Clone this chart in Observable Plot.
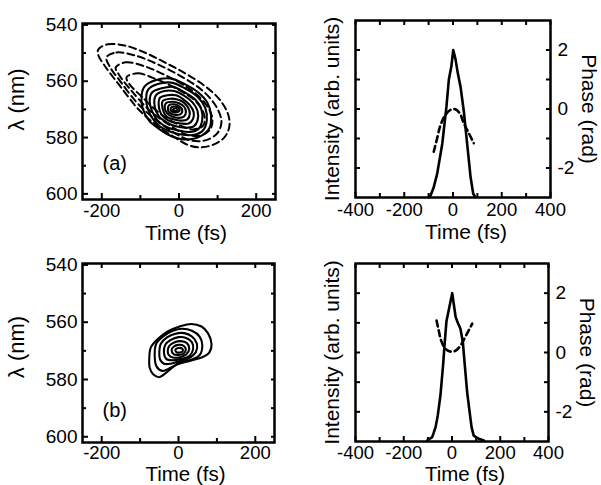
<!DOCTYPE html>
<html><head><meta charset="utf-8">
<script src="https://cdn.jsdelivr.net/npm/d3@7"></script>
<script src="https://cdn.jsdelivr.net/npm/@observablehq/plot@0.6"></script>
<style>
body{margin:0;background:#fff;}
#root{position:relative;width:601px;height:485px;background:#fff;overflow:hidden;}
.panel{position:absolute;}
.panel svg{position:absolute;left:0;top:0;}
</style></head><body><div id="root"></div>
<script>
const FONT = '"Liberation Sans", Arial, Helvetica, sans-serif';

// ---- Panel (a) FROG trace contours, [time fs, wavelength nm]
const frogA_dashed = [
  [[-209,548.7],[-185,546.9],[-141,547.3],[-89,549.8],[-37,553.3],[16,557.2],[68,561.8],[107,566.8],[128,572.1],[130,576.4],[117,580],[89,582.5],[55,583.5],[21,582.5],[-10,580],[-50,576.4],[-102,570.4],[-154,561.5],[-193,554.4],[-209,550.8]],
  [[-188,551.5],[-162,549.8],[-115,550.8],[-55,554.0],[10,558.6],[63,563.6],[96,568.9],[110,574.3],[99,578.5],[68,581.0],[29,581.0],[-10,578.5],[-55,574.3],[-107,567.9],[-154,559.7],[-180,554.7]],
  [[-164,555.1],[-138,553.3],[-89,554.7],[-29,558.3],[29,562.9],[68,567.9],[86,572.9],[81,577.1],[55,579.3],[18,578.9],[-23,575.7],[-76,570.4],[-128,562.6],[-156,557.6]],
  [[-136,558.6],[-107,557.2],[-57,559.4],[-3,562.9],[44,567.2],[65,571.8],[63,575.7],[37,577.1],[-3,575.3],[-50,571.4],[-97,565.4],[-128,561.1]]
];
const frogA_solid = [
  [[-89,561.8],[-63,559.7],[-23,559.0],[16,561.1],[50,564.0],[73,567.5],[83,572.1],[78,576.8],[55,579.6],[18,580.7],[-18,579.6],[-50,577.1],[-78,573.9],[-94,569.7],[-97,565.0]],
  [[-80,563],[-55,561],[-20,560.5],[15,562.5],[48,565.5],[68,569.5],[72,574],[62,577.5],[40,579],[10,579],[-20,578],[-50,576],[-72,572.5],[-84,568]],
  [[-70,564],[-45,562.5],[-15,562],[15,564],[42,566.5],[58,570],[60,574],[50,577],[28,578],[0,577.5],[-28,576.5],[-55,574],[-70,570.5],[-76,567]],
  [[-60,565],[-38,563.5],[-12,563.5],[12,565],[35,567.5],[48,570.5],[48,574],[38,576],[18,576.5],[-8,576],[-33,574.5],[-52,572.5],[-63,569]],
  [[-50,566],[-30,565],[-8,565],[12,566.5],[28,568.5],[38,571],[36,573.5],[25,575],[5,575],[-18,574.5],[-38,573],[-50,570.5]],
  [[-42,567],[-22,566.2],[-4,566.5],[12,567.5],[24,569.5],[28,571.5],[22,573.5],[5,574],[-15,573.5],[-32,572.5],[-42,570]],
  [[-34,567.8],[-16,567.3],[0,567.8],[13,569],[18,570.8],[13,572.5],[-2,573],[-18,572.5],[-31,571.3],[-37,569.5]],
  [[-26,568.5],[-12,568.2],[0,568.8],[8,570],[6,571.5],[-6,572],[-19,571.6],[-28,570.5]],
  [[-19,569.2],[-9,569],[0,569.6],[1,570.6],[-8,571.1],[-18,570.8],[-22,570]],
  [[-14,569.8],[-6,569.7],[-4,570.3],[-10,570.6],[-16,570.3]]
];
// ---- Panel (b) FROG trace contours
const frogB_solid = [
  [[-76,572.3],[-72,568.8],[-54,565.9],[-28,563.2],[3,561.5],[33,560.6],[60,561.5],[77,563.9],[86,567.6],[80,570.6],[60,572.3],[29,573.5],[-6,574.9],[-32,577.6],[-50,579.2],[-66,578.2],[-75,575.9]],
  [[-62,571.5],[-58,567.5],[-40,565],[-15,563],[10,562.3],[35,563],[55,565],[62,568],[55,571.5],[35,573],[5,574],[-22,576],[-42,577],[-57,575.5]],
  [[-50,571],[-46,567.5],[-30,565.3],[-8,564],[15,563.8],[35,565],[48,567.5],[45,570.5],[28,572.5],[5,573.5],[-20,574.5],[-38,574.5],[-48,573]],
  [[-38,570.5],[-34,567.8],[-20,566.2],[0,565.2],[20,565.5],[35,567],[38,569.5],[28,571.8],[8,572.8],[-15,573.3],[-32,572.8]],
  [[-28,570.2],[-24,568.3],[-10,567],[6,566.6],[22,567.3],[28,569.3],[20,571.3],[4,572.2],[-15,572.3],[-25,571.5]],
  [[-18,569.8],[-12,568.5],[0,567.9],[14,568.3],[19,569.5],[13,571],[0,571.4],[-12,571.2]],
  [[-8,569.6],[0,569],[10,569.3],[11,570.1],[3,570.6],[-6,570.4]]
];

// ---- Retrieved pulses: intensity (normalised) and phase (rad)
const timeIntA = [-99,-92,-79,-65,-44,-27,-17,-7,1,10,20,31,44,58,72,83,92];
const intensityA = [0.002,0.014,0.07,0.16,0.365,0.614,0.80,0.886,1.0,0.94,0.84,0.75,0.59,0.365,0.14,0.025,0.002];
const timePhaseA = [-79,-65,-51,-31,-10,10,28,44,65,85];
const phaseA = [-1.45,-0.99,-0.54,-0.20,-0.03,-0.01,-0.15,-0.48,-0.82,-1.16];

const timeIntB = [-103,-82,-68,-59,-48,-37,-30,-23,-13,-6,1,7,15,24,35,45,53,63,73,81,90,111,132];
const intensityB = [0.007,0.03,0.097,0.176,0.31,0.515,0.67,0.81,0.89,0.945,1.0,0.93,0.84,0.80,0.76,0.67,0.515,0.33,0.20,0.097,0.04,0.018,0.007];
const timePhaseB = [-64,-55,-45,-27,-6,15,35,56,73,84];
const phaseB = [1.08,0.74,0.40,0.12,0.03,0.06,0.23,0.54,0.80,0.97];

// ---- ticks
const lamTicksMajor = [540,560,580,600];
const lamTicksMinor = [550,570,590];
const frogTimeMajor = [-200,0,200];
const frogTimeMinor = [-100,100];
const pulseTimeMajor = [-400,-200,0,200,400];
const pulseTimeMinor = [-300,-100,100,300];
const intensityTicks = [0.2,0.4,0.6,0.8,1.0];
const phaseTicksMajor = [-2,0,2];
const phaseTicksMinor = [-1,1];

const fmt = d => String(d);
const style = {fontFamily: FONT, fontSize: "19px", color: "black", background: "transparent", overflow: "visible"};

function contourRows(list) {
  return list.flatMap((c, i) => c.map(([t, l]) => ({id: i, t, l})));
}

function frogPanel({solid, dashed, tag, height, mt, mb, mr, tagDy, lamDy, timeDy, pad, titleSize}) {
  const marks = [];
  if (dashed) marks.push(Plot.line(contourRows(dashed), {x: "t", y: "l", z: "id", curve: "catmull-rom-closed", stroke: "black", strokeWidth: 2, strokeDasharray: "7,4"}));
  marks.push(
    Plot.line(contourRows(solid), {x: "t", y: "l", z: "id", curve: "catmull-rom-closed", stroke: "black", strokeWidth: 2.1}),
    Plot.frame({stroke: "black", strokeWidth: 2.5}),
    Plot.axisX({anchor: "bottom", ticks: frogTimeMajor, tickSize: -6, tickPadding: pad, tickFormat: fmt, label: null, strokeWidth: 2, fontSize: 18.5}),
    Plot.axisX({anchor: "bottom", ticks: frogTimeMinor, tickSize: -4, fill: "none", strokeWidth: 2}),
    Plot.axisX({anchor: "top", ticks: frogTimeMajor.concat(frogTimeMinor), tickSize: -4, fill: "none", strokeWidth: 2}),
    Plot.axisY({anchor: "left", ticks: lamTicksMajor, tickSize: -6, tickPadding: 11, tickFormat: fmt, label: null, strokeWidth: 2}),
    Plot.axisY({anchor: "left", ticks: lamTicksMinor, tickSize: -4, fill: "none", strokeWidth: 2}),
    Plot.axisY({anchor: "right", ticks: lamTicksMajor.concat(lamTicksMinor), tickSize: -4, fill: "none", strokeWidth: 2}),
    Plot.text(["λ (nm)"], {frameAnchor: "left", text: d => d, rotate: -90, dx: -66, dy: lamDy, fontSize: 22, lineAnchor: "middle", textAnchor: "middle"}),
    Plot.text(["Time (fs)"], {frameAnchor: "bottom", text: d => d, dx: 7, dy: timeDy, fontSize: titleSize, lineAnchor: "bottom"}),
    Plot.text([tag], {frameAnchor: "bottom-left", text: d => d, textAnchor: "start", dx: 20, dy: tagDy, fontSize: 20, lineAnchor: "middle"})
  );
  return Plot.plot({
    width: 300, height, marginTop: mt, marginBottom: mb, marginLeft: 82, marginRight: mr,
    style, x: {domain: [-250, 250]}, y: {domain: [539.5, 602], reverse: true}, marks
  });
}

function pulsePanel({tI, I, tP, P, height, mt, mb, mr, timeDy, pad, titleSize}) {
  const common = {width: 301, height, marginTop: mt, marginBottom: mb, marginLeft: 55, marginRight: mr, style};
  const intensityRows = tI.map((t, i) => ({t, v: I[i]}));
  const phaseRows = tP.map((t, i) => ({t, p: P[i]}));
  const a = Plot.plot({...common, x: {domain: [-400, 400]}, y: {domain: [0, 1.2]}, marks: [
    Plot.line(intensityRows, {x: "t", y: "v", stroke: "black", strokeWidth: 2.6}),
    Plot.frame({stroke: "black", strokeWidth: 2.5}),
    Plot.axisX({anchor: "bottom", ticks: pulseTimeMajor, tickSize: -5, tickPadding: pad, tickFormat: fmt, label: null, strokeWidth: 2, fontSize: 18.5}),
    Plot.axisX({anchor: "bottom", ticks: pulseTimeMinor, tickSize: -4, fill: "none", strokeWidth: 2}),
    Plot.axisX({anchor: "top", ticks: pulseTimeMajor.concat(pulseTimeMinor), tickSize: -4, fill: "none", strokeWidth: 2}),
    Plot.axisY({anchor: "left", ticks: intensityTicks, tickSize: -5, fill: "none", strokeWidth: 2}),
    Plot.text(["Intensity (arb. units)"], {frameAnchor: "left", text: d => d, rotate: -90, dx: -23, fontSize: 21, lineAnchor: "middle", textAnchor: "middle"}),
    Plot.text(["Time (fs)"], {frameAnchor: "bottom", text: d => d, dx: 13, dy: timeDy, fontSize: titleSize, lineAnchor: "bottom"})
  ]});
  const b = Plot.plot({...common, x: {domain: [-400, 400], axis: null}, y: {domain: [-3, 3], axis: null}, marks: [
    Plot.line(phaseRows, {x: "t", y: "p", stroke: "black", strokeWidth: 2.6, strokeDasharray: "6,4", curve: "catmull-rom"}),
    Plot.axisY({anchor: "right", ticks: phaseTicksMajor, tickSize: -5, tickPadding: 12, tickFormat: fmt, label: null, strokeWidth: 2}),
    Plot.axisY({anchor: "right", ticks: phaseTicksMinor, tickSize: -5, fill: "none", strokeWidth: 2}),
    Plot.text(["Phase (rad)"], {frameAnchor: "right", text: d => d, rotate: 90, dx: 38, fontSize: 21, lineAnchor: "middle", textAnchor: "middle"})
  ]});
  return [a, b];
}

function place(nodes, left, top, w, h) {
  const div = document.createElement("div");
  div.className = "panel";
  Object.assign(div.style, {left: left + "px", top: top + "px", width: w + "px", height: h + "px"});
  for (const n of nodes) div.appendChild(n);
  document.getElementById("root").appendChild(div);
}

place([frogPanel({solid: frogA_solid, dashed: frogA_dashed, tag: "(a)", height: 245, mt: 23, mb: 46, mr: 25, tagDy: -36, lamDy: -12, timeDy: 40, pad: 10, titleSize: 21})], 0, 0, 300, 245);
place([frogPanel({solid: frogB_solid, dashed: null, tag: "(b)", height: 240, mt: 18, mb: 43, mr: 26, tagDy: -32, lamDy: -6, timeDy: 38.5, pad: 9, titleSize: 20.5})], 0, 245, 300, 240);
place(pulsePanel({tI: timeIntA, I: intensityA, tP: timePhaseA, P: phaseA, height: 245, mt: 20, mb: 48, mr: 51, timeDy: 41, pad: 10, titleSize: 21}), 300, 0, 301, 245);
place(pulsePanel({tI: timeIntB, I: intensityB, tP: timePhaseB, P: phaseB, height: 240, mt: 18, mb: 44, mr: 53, timeDy: 39.5, pad: 9, titleSize: 20.5}), 300, 245, 301, 240);
</script>
</body></html>
